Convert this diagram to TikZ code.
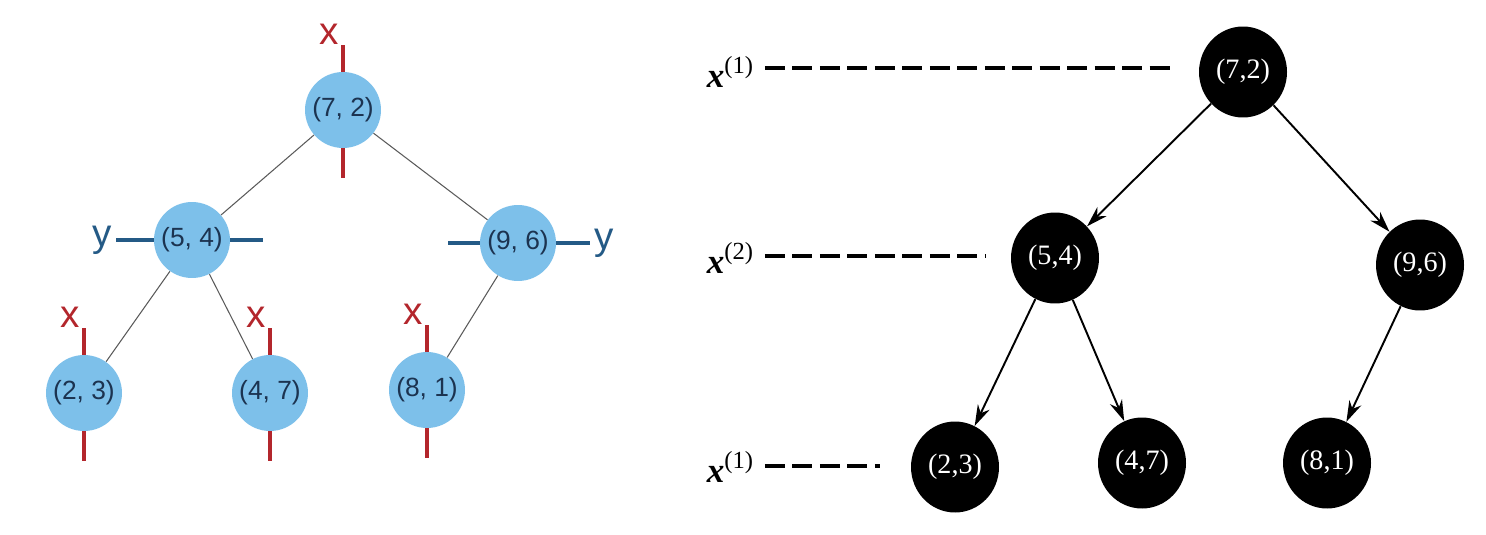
\documentclass[tikz,border=0pt]{standalone}
\usepackage{fontspec}
\setmainfont{Liberation Serif}
\setsansfont{Liberation Sans}
\usetikzlibrary{arrows.meta,shapes.geometric}
\definecolor{NodeBlue}{HTML}{7DC0EA}
\definecolor{NodeText}{HTML}{1C3350}
\definecolor{SplitRed}{HTML}{B3262C}
\definecolor{SplitBlue}{HTML}{245A86}
\definecolor{EdgeGray}{HTML}{5A5A5A}
\tikzset{
  kdnode/.style={circle, fill=NodeBlue, minimum size=1.52cm, inner sep=0pt,
    text=NodeText, font=\sffamily\fontsize{15}{17}\selectfont},
  kdedge/.style={draw=EdgeGray, line width=0.6pt},
  xsplit/.style={draw=SplitRed, line width=2pt},
  ysplit/.style={draw=SplitBlue, line width=2pt},
  xlabel/.style={text=SplitRed, font=\sffamily\fontsize{22}{22}\selectfont, inner sep=1pt},
  ylabel/.style={text=SplitBlue, font=\sffamily\fontsize{22}{22}\selectfont, inner sep=2pt},
  bknode/.style={ellipse, fill=black, minimum width=1.76cm, minimum height=1.82cm,
    inner sep=0pt, text=white, font=\fontsize{16}{18}\selectfont},
  bkarrow/.style={-{Stealth[length=4.2mm,width=2.6mm]}, line width=1.1pt},
  level/.style={font=\fontsize{20}{22}\selectfont, inner sep=1pt},
  levelline/.style={line width=1.8pt, dash pattern=on 0.4cm off 0.15cm}
}
\begin{document}
\begin{tikzpicture}[x=0.02cm,y=-0.02cm]
  \useasboundingbox (0,0) rectangle (1486,534);

  % left: kd-tree with splitting lines
  \node[kdnode] (l72) at (343,110) {(7, 2)};
  \node[kdnode] (l54) at (192,240) {(5, 4)};
  \node[kdnode] (l96) at (518,243) {(9, 6)};
  \node[kdnode] (l23) at (84,393)  {(2, 3)};
  \node[kdnode] (l47) at (270,393) {(4, 7)};
  \node[kdnode] (l81) at (427,390) {(8, 1)};

  \draw[kdedge] (l72) -- (l54);
  \draw[kdedge] (l72) -- (l96);
  \draw[kdedge] (l54) -- (l23);
  \draw[kdedge] (l54) -- (l47);
  \draw[kdedge] (l96) -- (l81);

  % x splits (vertical)
  \foreach \n in {l72,l23,l47,l81} {
    \draw[xsplit] (\n.north) -- ++(0,-27) coordinate (\n top);
    \draw[xsplit] (\n.south) -- ++(0,30);
    \node[xlabel, anchor=base east] at ([xshift=-1pt]\n top) {x};
  }

  % y splits (horizontal)
  \draw[ysplit] (l54.west) -- ++(-38,0) coordinate (l54w);
  \draw[ysplit] (l54.east) -- ++(33,0);
  \node[ylabel, anchor=east] at (l54w) {y};
  \draw[ysplit] (l96.west) -- ++(-32,0);
  \draw[ysplit] (l96.east) -- ++(34,0) coordinate (l96e);
  \node[ylabel, anchor=west] at (l96e) {y};

  % right: the same tree, levels marked
  \node[bknode] (r72) at (1243,72)  {(7,2)};
  \node[bknode] (r54) at (1055,258) {(5,4)};
  \node[bknode] (r96) at (1420,265) {(9,6)};
  \node[bknode] (r23) at (955,467)  {(2,3)};
  \node[bknode] (r47) at (1142,463) {(4,7)};
  \node[bknode] (r81) at (1327,463) {(8,1)};

  \draw[bkarrow] (r72) -- (r54);
  \draw[bkarrow] (r72) -- (r96);
  \draw[bkarrow] (r54) -- (r23);
  \draw[bkarrow] (r54) -- (r47);
  \draw[bkarrow] (r96) -- (r81);

  \node[level, anchor=east] (lev1) at (756,72)  {\textbf{\textit{x}}\textsuperscript{(1)}};
  \node[level, anchor=east] (lev2) at (756,258) {\textbf{\textit{x}}\textsuperscript{(2)}};
  \node[level, anchor=east] (lev3) at (756,467) {\textbf{\textit{x}}\textsuperscript{(1)}};
  \coordinate (end1) at (1172,68);
  \coordinate (end2) at (985,256);
  \coordinate (end3) at (880,466);
  \draw[levelline] ([xshift=5pt]lev1.east |- end1) -- (end1);
  \draw[levelline] ([xshift=5pt]lev2.east |- end2) -- (end2);
  \draw[levelline] ([xshift=5pt]lev3.east |- end3) -- (end3);
\end{tikzpicture}
\end{document}
